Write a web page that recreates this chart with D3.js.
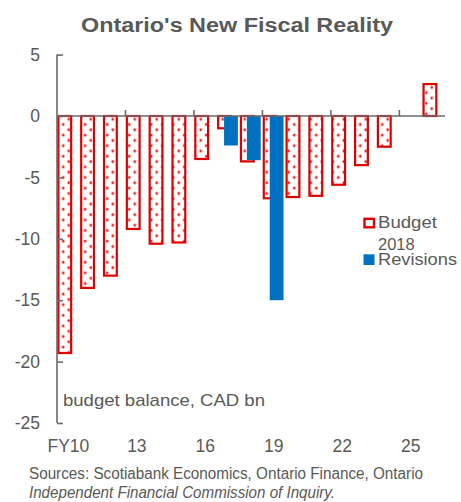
<!DOCTYPE html>
<html>
<head>
<meta charset="utf-8">
<script src="https://cdn.jsdelivr.net/npm/d3@7"></script>
<style>
  html, body { margin: 0; padding: 0; background: #fff; }
  svg { display: block; font-family: "Liberation Sans", Arial, sans-serif; }
</style>
</head>
<body>
<svg id="chart" width="461" height="502"></svg>
<script>
// Ontario budget balance, CAD bn, fiscal years FY10..FY26
const years = [10, 11, 12, 13, 14, 15, 16, 17, 18, 19, 20, 21, 22, 23, 24, 25, 26];
const budget2018 = [-19.3, -14.0, -13.0, -9.2, -10.4, -10.3, -3.5, -1.0, -3.7, -6.7, -6.6, -6.5, -5.6, -4.0, -2.5, null, 2.6];
const revisions = [null, null, null, null, null, null, null, -2.4, -3.6, -15.0, null, null, null, null, null, null, null];
const yTicks = [5, 0, -5, -10, -15, -20, -25];
const xLabelYears = [10, 13, 16, 19, 22, 25];
const seriesNames = ["Budget 2018", "Revisions"];

const TEXT = "#595959";
const RED = "#e00000";
const BLUE = "#0070c0";
const AXIS = "#6a6a6a";

const svg = d3.select("#chart");

const x = d3.scaleBand().domain(years).range([57, 445]).paddingInner(0).paddingOuter(0);
const y = d3.scaleLinear().domain([-25, 5]).range([423, 54.6]);
const s = x.bandwidth();

// dotted fill for the Budget 2018 bars
const defs = svg.append("defs");
const pat = defs.append("pattern")
  .attr("id", "dots").attr("patternUnits", "userSpaceOnUse")
  .attr("width", 11).attr("height", 10.6);
pat.append("rect").attr("width", 11).attr("height", 10.6).attr("fill", "#fff");
[[2.75, 2.65], [8.25, 7.95]].forEach(([cx, cy]) => {
  pat.append("circle").attr("cx", cx).attr("cy", cy).attr("r", 2).attr("fill", "#f8c4c4");
  pat.append("circle").attr("cx", cx).attr("cy", cy).attr("r", 1.1).attr("fill", "#e8141c");
});

// title
svg.append("text")
  .attr("x", 237).attr("y", 32)
  .attr("text-anchor", "middle")
  .attr("font-size", 19.5).attr("font-weight", "bold").attr("fill", TEXT)
  .attr("textLength", 312).attr("lengthAdjust", "spacingAndGlyphs")
  .text("Ontario's New Fiscal Reality");

// Budget 2018 bars
const budgetData = years.map((yr, i) => ({ yr, v: budget2018[i] })).filter(d => d.v != null);
svg.append("g").selectAll("rect").data(budgetData).join("rect")
  .attr("x", d => x(d.yr) + s * 0.06)
  .attr("width", s * 0.56)
  .attr("y", d => y(Math.max(0, d.v)))
  .attr("height", d => Math.abs(y(d.v) - y(0)))
  .attr("fill", "url(#dots)")
  .attr("stroke", RED).attr("stroke-width", 2.2);

// Revisions bars, drawn over the budget bars
const revData = years.map((yr, i) => ({ yr, v: revisions[i] })).filter(d => d.v != null);
svg.append("g").selectAll("rect").data(revData).join("rect")
  .attr("x", d => x(d.yr) + s * 0.32)
  .attr("width", s * 0.605)
  .attr("y", d => y(Math.max(0, d.v)))
  .attr("height", d => Math.abs(y(d.v) - y(0)))
  .attr("fill", BLUE);

// y axis
const yAxis = d3.axisLeft(y).tickValues(yTicks).tickSize(-6).tickPadding(17).tickFormat(d3.format("d"));
const gy = svg.append("g").attr("transform", "translate(57,0)").call(yAxis);
gy.select(".domain").attr("stroke", AXIS).attr("stroke-width", 1.6).attr("d", `M0,${y(5)}V${y(-25)}`);
gy.selectAll(".tick line").attr("stroke", AXIS).attr("stroke-width", 1.6);
gy.selectAll(".tick text").attr("fill", TEXT).attr("font-size", 17.5)
  .attr("font-family", "Liberation Sans, Arial, sans-serif")
  .text(d => d === 0 ? "0" : d3.format("d")(d).replace("−", "-"));

// x axis along zero, ticks between every third category
const boundaries = xLabelYears.slice(1).map(yr => x(yr));
const gx = svg.append("g");
gx.append("line")
  .attr("x1", 57).attr("x2", 445).attr("y1", y(0)).attr("y2", y(0))
  .attr("stroke", AXIS).attr("stroke-width", 1.6);
gx.selectAll("line.tk").data(boundaries).join("line").attr("class", "tk")
  .attr("x1", d => d).attr("x2", d => d)
  .attr("y1", y(0)).attr("y2", y(0) - 6)
  .attr("stroke", AXIS).attr("stroke-width", 1.6);

// category labels below the plot
svg.append("g").selectAll("text").data(xLabelYears).join("text")
  .attr("x", d => x(d) + s / 2)
  .attr("y", 452)
  .attr("text-anchor", "middle")
  .attr("font-size", 17.5).attr("fill", TEXT)
  .text(d => d === 10 ? "FY10" : String(d));

// unit label
svg.append("text")
  .attr("x", 63).attr("y", 406)
  .attr("font-size", 17).attr("fill", TEXT)
  .attr("textLength", 202).attr("lengthAdjust", "spacingAndGlyphs")
  .text("budget balance, CAD bn");

// legend
const lg = svg.append("g");
lg.append("rect").attr("x", 364.5).attr("y", 218.8).attr("width", 9.5).attr("height", 8.5)
  .attr("fill", "#fff").attr("stroke", RED).attr("stroke-width", 2.4);
lg.append("text").attr("x", 378).attr("y", 228).attr("font-size", 17).attr("fill", TEXT)
  .attr("textLength", 59).attr("lengthAdjust", "spacingAndGlyphs")
  .text(seriesNames[0].split(" ")[0]);
lg.append("text").attr("x", 378).attr("y", 249.5).attr("font-size", 16.5).attr("fill", TEXT)
  .text(seriesNames[0].split(" ")[1]);
lg.append("rect").attr("x", 363.5).attr("y", 254.3).attr("width", 11).attr("height", 10.7)
  .attr("fill", BLUE);
lg.append("text").attr("x", 378).attr("y", 265).attr("font-size", 17).attr("fill", TEXT)
  .attr("textLength", 79).attr("lengthAdjust", "spacingAndGlyphs")
  .text(seriesNames[1]);

// sources
svg.append("text").attr("x", 29).attr("y", 479).attr("font-size", 16).attr("fill", TEXT)
  .attr("textLength", 394).attr("lengthAdjust", "spacingAndGlyphs")
  .text("Sources: Scotiabank Economics, Ontario Finance, Ontario");
svg.append("text").attr("x", 29).attr("y", 498).attr("font-size", 16).attr("fill", TEXT)
  .attr("font-style", "italic")
  .attr("textLength", 306).attr("lengthAdjust", "spacingAndGlyphs")
  .text("Independent Financial Commission of Inquiry.");
</script>
</body>
</html>
